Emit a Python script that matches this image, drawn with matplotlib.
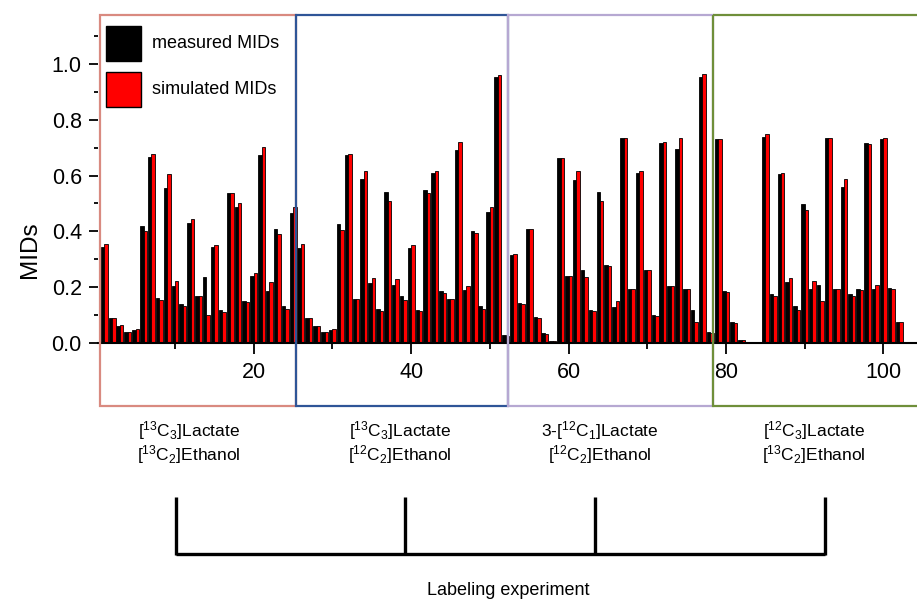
import matplotlib
matplotlib.use('Agg')
import matplotlib.pyplot as plt
import numpy as np
import matplotlib.transforms as mtransforms
from matplotlib.patches import Rectangle
from matplotlib.lines import Line2D
from matplotlib.ticker import MultipleLocator, FormatStrFormatter

plt.rcParams['font.family'] = ['Liberation Sans', 'DejaVu Sans']
plt.rcParams['mathtext.fontset'] = 'custom'
plt.rcParams['mathtext.rm'] = 'Liberation Sans'
plt.rcParams['mathtext.it'] = 'Liberation Sans:italic'
plt.rcParams['mathtext.bf'] = 'Liberation Sans:bold'

# ---------------- data ----------------
measured = [0.345, 0.091, 0.062, 0.039, 0.045, 0.420, 0.665, 0.161, 0.557, 0.203,
            0.139, 0.430, 0.169, 0.237, 0.345, 0.120, 0.536, 0.488, 0.150, 0.240,
            0.672, 0.187, 0.409, 0.132, 0.464,
            0.341, 0.091, 0.062, 0.038, 0.045, 0.428, 0.672, 0.159, 0.586, 0.215,
            0.121, 0.542, 0.207, 0.167, 0.339, 0.120, 0.547, 0.608, 0.187, 0.156,
            0.691, 0.189, 0.403, 0.132, 0.471, 0.952, 0.030,
            0.315, 0.144, 0.409, 0.094, 0.035, 0.007, 0.663, 0.240, 0.584, 0.263,
            0.117, 0.542, 0.280, 0.130, 0.734, 0.194, 0.610, 0.263, 0.099, 0.718,
            0.205, 0.695, 0.194, 0.117, 0.952, 0.038,
            0.731, 0.187, 0.074, 0.012, 0.004, 0.004, 0.739, 0.175, 0.605, 0.219,
            0.132, 0.499, 0.194, 0.206, 0.734, 0.194, 0.560, 0.175, 0.195, 0.718,
            0.195, 0.732, 0.196, 0.074]
simulated = [0.354, 0.091, 0.063, 0.038, 0.050, 0.400, 0.676, 0.153, 0.604, 0.221,
             0.132, 0.445, 0.169, 0.099, 0.350, 0.111, 0.538, 0.502, 0.147, 0.251,
             0.702, 0.218, 0.392, 0.121, 0.488,
             0.354, 0.091, 0.062, 0.038, 0.049, 0.404, 0.677, 0.156, 0.616, 0.234,
             0.114, 0.510, 0.228, 0.153, 0.352, 0.114, 0.537, 0.617, 0.179, 0.156,
             0.719, 0.205, 0.395, 0.122, 0.488, 0.959, 0.024,
             0.318, 0.141, 0.409, 0.091, 0.033, 0.006, 0.663, 0.239, 0.615, 0.237,
             0.114, 0.508, 0.276, 0.151, 0.734, 0.193, 0.617, 0.261, 0.096, 0.720,
             0.203, 0.734, 0.194, 0.074, 0.962, 0.037,
             0.731, 0.183, 0.072, 0.010, 0.004, 0.004, 0.748, 0.170, 0.610, 0.234,
             0.120, 0.476, 0.221, 0.150, 0.734, 0.194, 0.586, 0.169, 0.189, 0.714,
             0.208, 0.736, 0.194, 0.074]
positions = np.arange(1, len(measured) + 1)

legend_labels = ['measured MIDs', 'simulated MIDs']
y_label = 'MIDs'
x_title = 'Labeling experiment'
lactate_labels = [r'[$^{13}$C$_3$]Lactate', r'[$^{13}$C$_3$]Lactate',
                  r'3-[$^{12}$C$_1$]Lactate', r'[$^{12}$C$_3$]Lactate']
ethanol_labels = [r'[$^{13}$C$_2$]Ethanol', r'[$^{12}$C$_2$]Ethanol',
                  r'[$^{12}$C$_2$]Ethanol', r'[$^{13}$C$_2$]Ethanol']

# ---------------- layout ----------------
W, H = 917, 600
fig = plt.figure(figsize=(W / 100, H / 100), dpi=100)
pxt = mtransforms.Affine2D().scale(1 / W, -1 / H).translate(0, 1) + fig.transFigure


def axrect(x0, y0, x1, y1):
    return [x0 / W, 1 - y1 / H, (x1 - x0) / W, (y1 - y0) / H]


ax = fig.add_axes(axrect(97.5, 15, 917, 343))
bw = 0.44
ax.bar(positions - bw / 2, measured, width=bw, color='black',
       edgecolor='black', linewidth=0.6, zorder=2)
ax.bar(positions + bw / 2, simulated, width=bw, color='#ff0000',
       edgecolor='black', linewidth=0.6, zorder=2)
ax.set_xlim(0.15, 104.28)
ax.set_ylim(0, 1.175)

for s in ['top', 'right', 'left']:
    ax.spines[s].set_visible(False)
ax.spines['bottom'].set_linewidth(1.5)

ax.xaxis.set_major_locator(MultipleLocator(20))
ax.xaxis.set_minor_locator(MultipleLocator(10))
ax.yaxis.set_major_locator(MultipleLocator(0.2))
ax.yaxis.set_minor_locator(MultipleLocator(0.1))
ax.yaxis.set_major_formatter(FormatStrFormatter('%.1f'))
ax.tick_params(axis='x', which='major', direction='out', length=8, width=1.3,
               labelsize=15.5, pad=5.5)
ax.tick_params(axis='x', which='minor', direction='out', length=4, width=1.3)
ax.tick_params(axis='y', which='major', direction='out', length=6.5, width=1.3,
               labelsize=15.5, pad=4.8)
ax.tick_params(axis='y', which='minor', direction='out', length=3, width=1.3)

# group boxes
box_edges = [0.47, 25.35, 52.35, 78.3, 106.0]
box_colors = ['#d98a80', '#2f5597', '#b6a8d2', '#6f8f3a']
blend = mtransforms.blended_transform_factory(ax.transData, pxt)
for i, c in enumerate(box_colors):
    r = Rectangle((box_edges[i], 15), box_edges[i + 1] - box_edges[i], 391,
                  transform=blend, fill=False, edgecolor=c, linewidth=1.6,
                  clip_on=False, zorder=5)
    ax.add_patch(r)

# legend (manual)
leg_colors = ['black', '#ff0000']
for i, (lab, c) in enumerate(zip(legend_labels, leg_colors)):
    y0 = 26 + i * 46
    fig.patches.append(Rectangle((106, y0), 35, 35, transform=pxt, facecolor=c,
                                 edgecolor='black', linewidth=1.0))
    fig.text(152 / W, 1 - (y0 + 17.5) / H, lab, fontsize=13, ha='left', va='center')

fig.text(30 / W, 1 - 250 / H, y_label, rotation=90, fontsize=17.5,
         ha='center', va='center')

label_x = [189, 400, 600, 814]
for xc, l1, l2 in zip(label_x, lactate_labels, ethanol_labels):
    fig.text(xc / W, 1 - 436 / H, l1, fontsize=12.5, ha='center', va='baseline')
    fig.text(xc / W, 1 - 460 / H, l2, fontsize=12.5, ha='center', va='baseline')

# bracket
bx = [175.5, 404.7, 594.8, 825]
fig.lines.append(Line2D([bx[0], bx[-1]], [554, 554], transform=pxt,
                        color='black', linewidth=2.4, solid_capstyle='butt'))
for xv in bx:
    fig.lines.append(Line2D([xv, xv], [496.5, 555], transform=pxt,
                            color='black', linewidth=2.4, solid_capstyle='butt'))

fig.text(508 / W, 1 - 595 / H, x_title, fontsize=13, ha='center', va='baseline')

fig.savefig('out.png', dpi=100)
